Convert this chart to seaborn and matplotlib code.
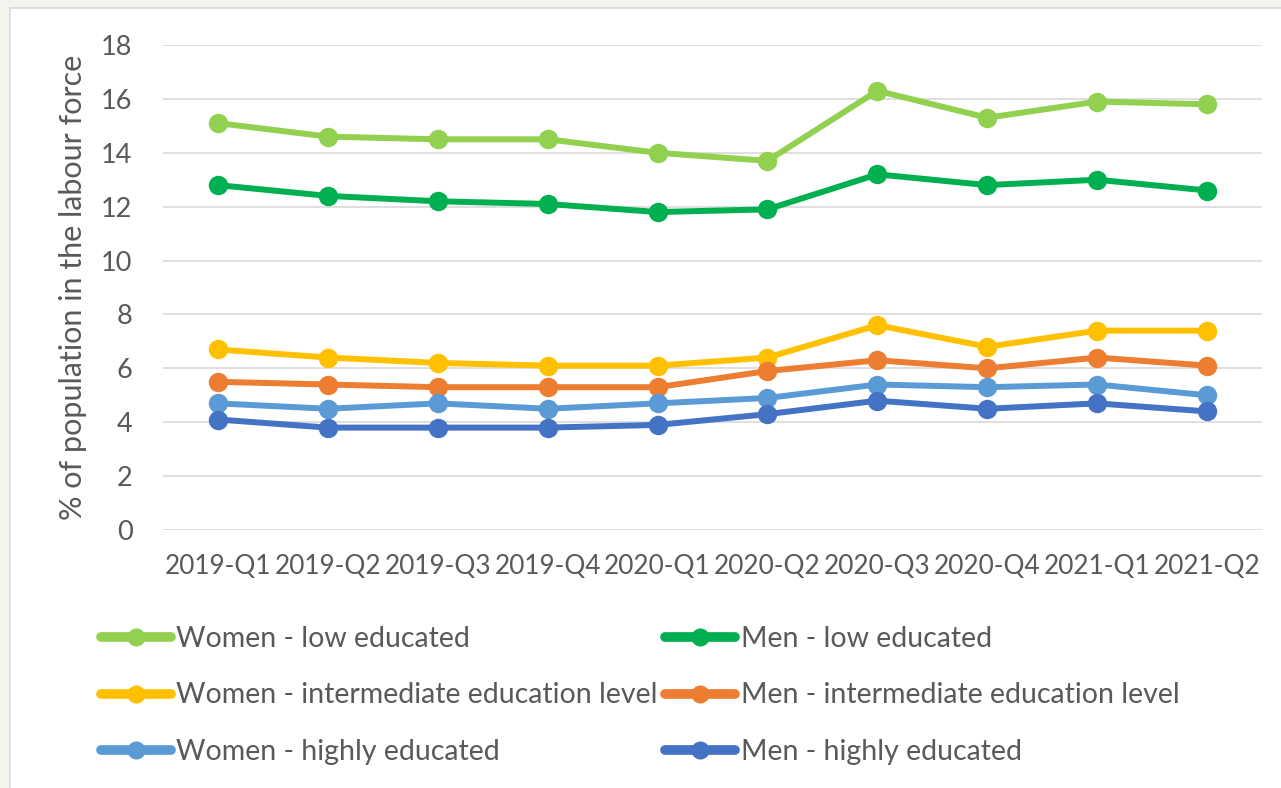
import pandas as pd
import numpy as np
import seaborn as sns
import matplotlib.pyplot as plt
from matplotlib.patches import Rectangle

# quarters on the x axis
quarters = ['2019-Q1', '2019-Q2', '2019-Q3', '2019-Q4', '2020-Q1',
            '2020-Q2', '2020-Q3', '2020-Q4', '2021-Q1', '2021-Q2']

# values (% of population in the labour force)
women_low = [15.1, 14.6, 14.5, 14.5, 14.0, 13.7, 16.3, 15.3, 15.9, 15.8]
men_low = [12.8, 12.4, 12.2, 12.1, 11.8, 11.9, 13.2, 12.8, 13.0, 12.6]
women_mid = [6.7, 6.4, 6.2, 6.1, 6.1, 6.4, 7.6, 6.8, 7.4, 7.4]
men_mid = [5.5, 5.4, 5.3, 5.3, 5.3, 5.9, 6.3, 6.0, 6.4, 6.1]
women_high = [4.7, 4.5, 4.7, 4.5, 4.7, 4.9, 5.4, 5.3, 5.4, 5.0]
men_high = [4.1, 3.8, 3.8, 3.8, 3.9, 4.3, 4.8, 4.5, 4.7, 4.4]

series_names = ['Women - low educated', 'Men - low educated',
                'Women - intermediate education level', 'Men - intermediate education level',
                'Women - highly educated', 'Men - highly educated']
series_values = [women_low, men_low, women_mid, men_mid, women_high, men_high]
colours = ['#92D050', '#00B050', '#FFC000', '#ED7D31', '#5B9BD5', '#4472C4']

def to_long(names, values):
    rows = []
    for name, vals in zip(names, values):
        for q, v in zip(quarters, vals):
            rows.append({'quarter': q, 'value': v, 'series': name})
    return pd.DataFrame(rows)

df = to_long(series_names, series_values)

sns.set_style('white')
plt.rcParams['font.family'] = ['Lato', 'DejaVu Sans']
text_col = '#595959'

fig = plt.figure(figsize=(12.81, 7.88), dpi=100, facecolor='#f4f4ef')
# white chart area with thin border
fig.patches.append(Rectangle((10 / 1281, -0.01), 1.0, 1 - 8 / 788 + 0.01, transform=fig.transFigure,
                             facecolor='white', edgecolor='#d9d9d9', linewidth=1.2, zorder=-5))

ax = fig.add_axes([163 / 1281, 1 - 530 / 788, (1262 - 163) / 1281, (530 - 45) / 788])
ax.set_facecolor('none')

sns.lineplot(data=df, x='quarter', y='value', hue='series', hue_order=series_names,
             palette=dict(zip(series_names, colours)), marker='o', markersize=14,
             markeredgewidth=0, linewidth=4.3, sort=False, ax=ax, legend=False)

ax.set_xlim(-0.5, 9.5)
ax.set_ylim(0, 18)
ax.set_yticks(np.arange(0, 19, 2))
ax.grid(axis='y', color='#d9d9d9', linewidth=1.2)
ax.grid(axis='x', visible=False)
ax.set_axisbelow(True)
for s in ax.spines.values():
    s.set_visible(False)
ax.tick_params(axis='both', length=0, labelcolor=text_col)
ax.tick_params(axis='x', pad=17, labelsize=18.8)
ax.tick_params(axis='y', pad=22, labelsize=19.5)
ax.set_xlabel('')
ax.set_ylabel('% of population in the labour force', fontsize=22, color=text_col, labelpad=10)

# legend: women in first column, men in second
order = [0, 2, 4, 1, 3, 5]
leg_handles = []
for i in order:
    h = plt.Line2D([], [], color=colours[i], linewidth=7, marker='o', markersize=13,
                   markeredgewidth=0, solid_capstyle='round')
    leg_handles.append(h)
fig.legend(leg_handles, [series_names[i] for i in order], ncol=2, loc='upper left',
           bbox_to_anchor=(101 / 1281, 1 - 626 / 788), frameon=False, fontsize=20.5,
           labelcolor=text_col, handlelength=2.45, handletextpad=0.2, columnspacing=0.25,
           labelspacing=1.07, borderpad=0, borderaxespad=0)

fig.savefig('out.png', dpi=100, facecolor=fig.get_facecolor())
